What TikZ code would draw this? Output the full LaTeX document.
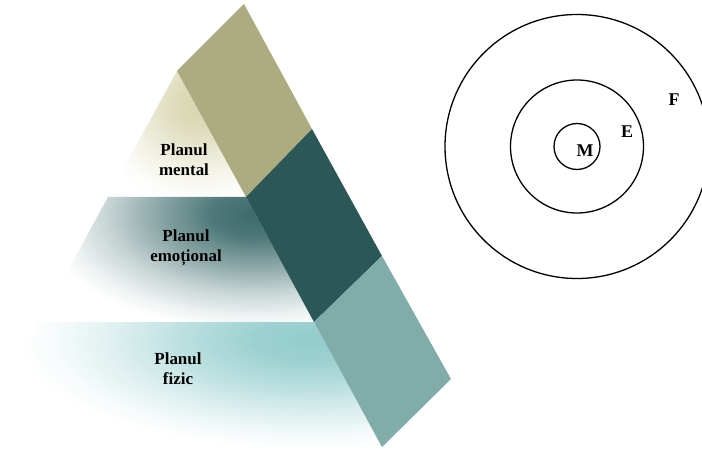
\documentclass[tikz,border=0pt]{standalone}
\usepackage{fontspec}
\setmainfont{Liberation Serif}
\definecolor{pyrOlive}{RGB}{173,171,128}
\definecolor{pyrDark}{RGB}{43,87,86}
\definecolor{pyrLight}{RGB}{128,172,170}
\definecolor{topTint}{RGB}{216,214,176}
\definecolor{midTint}{RGB}{60,106,106}
\definecolor{botTint}{RGB}{146,204,204}
\pgfdeclareradialshading{topSh}{\pgfpoint{0bp}{0bp}}{color(0bp)=(topTint); color(5bp)=(topTint!90!white); color(11bp)=(topTint!60!white); color(17bp)=(topTint!28!white); color(22bp)=(topTint!8!white); color(25bp)=(white); color(50bp)=(white)}
\pgfdeclareradialshading{midSh}{\pgfpoint{0bp}{0bp}}{color(0bp)=(midTint); color(5bp)=(midTint!90!white); color(11bp)=(midTint!60!white); color(17bp)=(midTint!28!white); color(22bp)=(midTint!8!white); color(25bp)=(white); color(50bp)=(white)}
\pgfdeclareradialshading{botSh}{\pgfpoint{0bp}{0bp}}{color(0bp)=(botTint); color(5bp)=(botTint!90!white); color(11bp)=(botTint!62!white); color(17bp)=(botTint!30!white); color(22bp)=(botTint!8!white); color(25bp)=(white); color(50bp)=(white)}
\begin{document}
\begin{tikzpicture}[x=1bp,y=-1bp,
  lbl/.style={font=\bfseries\fontsize{17}{20}\selectfont, align=center, text=black, inner sep=0pt},
  ring/.style={circle, draw=black, line width=1.3bp, inner sep=0pt},
  letter/.style={font=\bfseries\fontsize{18}{20}\selectfont, text=black, inner sep=0pt}]
\useasboundingbox (0,0) rectangle (702,450);
% pyramid corners
\coordinate (A) at (177,71);
\coordinate (B) at (246,197);
\coordinate (C) at (314,322);
\coordinate (D) at (382,447);
\coordinate (A2) at (244,4);
\coordinate (B2) at (312,129);
\coordinate (C2) at (382,256);
\coordinate (D2) at (451,379);
\coordinate (L1) at (108,197);
\coordinate (L2) at (40,322);
\coordinate (L3) at (-29,447);
% front faces
\begin{scope}
  \clip (A) -- (B) -- (L1) -- cycle;
  \shade[shading=topSh] (200,105) ellipse (110 and 100);
\end{scope}
\begin{scope}
  \clip (L1) -- (B) -- (C) -- (L2) -- cycle;
  \shade[shading=midSh] (255,215) ellipse (220 and 115);
\end{scope}
\begin{scope}
  \clip (L2) -- (C) -- (D) -- (L3) -- cycle;
  \shade[shading=botSh] (310,340) ellipse (290 and 110);
\end{scope}
% side faces
\fill[pyrOlive] (A) -- (A2) -- (B2) -- (B) -- cycle;
\fill[pyrDark] (B) -- (B2) -- (C2) -- (C) -- cycle;
\fill[pyrLight] (C) -- (C2) -- (D2) -- (D) -- cycle;
% labels
\node[lbl] (tm) at (184,160) {Planul\\mental};
\node[lbl] (te) at (186,248) {Planul\\emoțional};
\node[lbl] (tf) at (178,369) {Planul\\fizic};
% circles
\node[ring, minimum size=264bp] (cF) at (577,146.5) {};
\node[ring, minimum size=133bp] (cE) at (577,146.5) {};
\node[ring, minimum size=46bp] (cM) at (577,146.5) {};
\node[letter] (M) at (585,151) {M};
\node[letter] (E) at (627,131.5) {E};
\node[letter] (F) at (674,100) {F};
\end{tikzpicture}
\end{document}
